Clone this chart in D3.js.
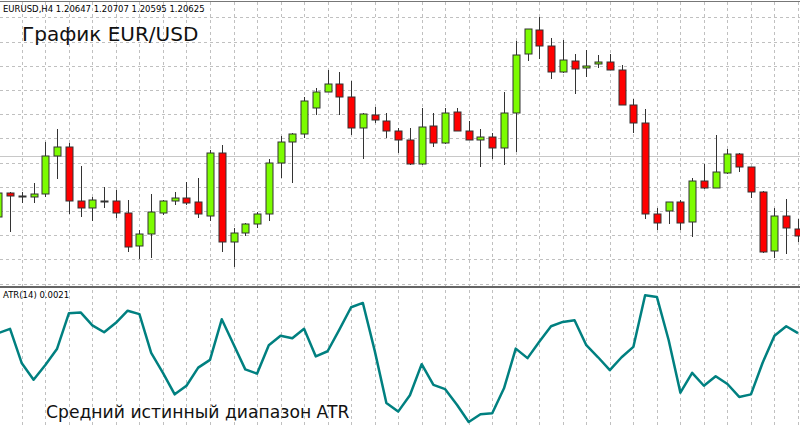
<!DOCTYPE html>
<html>
<head>
<meta charset="utf-8">
<script src="https://cdn.jsdelivr.net/npm/d3@7"></script>
<style>
  body { margin: 0; background: #fff; }
  svg { display: block; font-family: "DejaVu Sans", sans-serif; }
</style>
</head>
<body>
<div id="chart"></div>
<script>
// candle data, EURUSD H4
var openP = [1.1963,1.1987,1.1984,1.1983,1.1986,1.2024,1.2033,1.1979,1.1972,1.1979,1.1979,1.1967,1.1934,1.1946,1.1967,1.1979,1.1982,1.1978,1.1964,1.2027,1.1938,1.1947,1.1956,1.1966,1.2017,1.2038,1.2046,1.2072,1.2088,1.2096,1.2083,1.2052,1.2065,1.2059,1.2049,1.2040,1.2016,1.2054,1.2037,1.2068,1.2049,1.2040,1.2043,1.2032,1.2067,1.2126,1.2150,1.2134,1.2108,1.2119,1.2112,1.2116,1.2118,1.2110,1.2075,1.2057,1.1966,1.1969,1.1978,1.1958,1.1999,1.1992,1.2007,1.2026,1.2013,1.1988,1.1929,1.1964,1.1951];
var highP = [1.1990,1.1988,1.1988,1.1997,1.2038,1.2051,1.2037,1.2014,1.1983,1.1993,1.1990,1.1980,1.1950,1.1986,1.1980,1.1988,1.1998,1.2002,1.2030,1.2035,1.1952,1.1957,1.1968,1.2021,1.2044,1.2047,1.2083,1.2092,1.2110,1.2108,1.2099,1.2067,1.2073,1.2067,1.2052,1.2052,1.2072,1.2067,1.2072,1.2072,1.2059,1.2051,1.2047,1.2088,1.2139,1.2151,1.2163,1.2142,1.2140,1.2126,1.2130,1.2125,1.2126,1.2115,1.2081,1.2071,1.1972,1.1978,1.1980,1.2002,1.2016,1.2045,1.2031,1.2027,1.2013,1.1989,1.1972,1.1981,1.1961];
var lowP = [1.1960,1.1948,1.1977,1.1977,1.1983,1.2001,1.1966,1.1963,1.1959,1.1972,1.1962,1.1928,1.1921,1.1922,1.1965,1.1975,1.1975,1.1962,1.1959,1.1928,1.1913,1.1944,1.1952,1.1959,1.2002,1.1997,1.2042,1.2065,1.2088,1.2065,1.2045,1.2021,1.2057,1.2042,1.2027,1.2015,1.2015,1.2033,1.2036,1.2049,1.2040,1.2013,1.2021,1.2015,1.2028,1.2119,1.2121,1.2101,1.2107,1.2086,1.2103,1.2112,1.2110,1.2075,1.2047,1.1961,1.1950,1.1956,1.1950,1.1943,1.1991,1.1992,1.2006,1.2008,1.1982,1.1927,1.1922,1.1926,1.1938];
var closeP = [1.1987,1.1984,1.1984,1.1986,1.2024,1.2033,1.1979,1.1972,1.1980,1.1979,1.1967,1.1933,1.1946,1.1968,1.1979,1.1982,1.1977,1.1966,1.2027,1.1938,1.1947,1.1956,1.1966,1.2017,1.2038,1.2046,1.2079,1.2088,1.2096,1.2083,1.2052,1.2066,1.2060,1.2049,1.2040,1.2016,1.2053,1.2037,1.2067,1.2049,1.2040,1.2043,1.2032,1.2067,1.2125,1.2151,1.2134,1.2108,1.2120,1.2111,1.2114,1.2118,1.2110,1.2075,1.2057,1.1966,1.1957,1.1978,1.1957,1.1999,1.1992,1.2008,1.2026,1.2013,1.1988,1.1928,1.1964,1.1952,1.1944];

// ATR(14), in pips
var atrPips = [21.0,21.5,17.5,15.6,17.3,19.2,23.3,23.4,21.9,21.1,22.2,23.6,23.2,18.7,16.4,13.9,14.9,17.0,17.9,22.6,19.7,16.8,16.3,19.6,20.7,20.4,21.5,18.3,18.9,21.4,24.0,24.5,19.0,12.9,11.9,13.8,17.4,15.0,14.5,12.7,10.7,11.6,11.7,14.6,19.2,18.1,20.0,21.8,22.3,22.5,19.6,18.2,16.7,18.2,19.4,25.4,25.2,20.2,14.1,16.4,14.9,16.0,15.1,13.6,13.9,17.6,20.7,21.8,21.0];

// price grid levels
var gridLevels = [1.2163,1.2138,1.2114,1.2090,1.2066,1.2042,1.2017,1.1993,1.1969,1.1945,1.1921,1.1896];
var headerText = "EURUSD,H4  1.20647 1.20707 1.20595 1.20625";
var titleText = "График EUR/USD";
var atrLabel = "ATR(14) 0.0021";
var atrTitle = "Средний истинный диапазон ATR";

var width = 800, height = 428;
var sepY = 287;

var svg = d3.select("#chart").append("svg")
  .attr("width", width).attr("height", height);

var x = d3.scaleLinear().domain([0, openP.length - 1]).range([-1.7, 798]);
var y = d3.scaleLinear().domain([1.2180, 1.1900]).range([0, 280]);
var yAtr = d3.scaleLinear().domain([10, 26]).range([428, 290]);

// vertical grid, every second bar
var vIdx = d3.range(0, openP.length + 2, 2);
svg.append("g").selectAll("line").data(vIdx).enter().append("line")
  .attr("x1", function(d) { return Math.round(x(d)) + 0.5; })
  .attr("x2", function(d) { return Math.round(x(d)) + 0.5; })
  .attr("y1", 2).attr("y2", height)
  .attr("stroke", "#c0c0c0").attr("stroke-dasharray", "3,3");

// horizontal grid
svg.append("g").selectAll("line").data(gridLevels).enter().append("line")
  .attr("x1", 0).attr("x2", width)
  .attr("y1", function(d) { return Math.round(y(d)) + 0.5; })
  .attr("y2", function(d) { return Math.round(y(d)) + 0.5; })
  .attr("stroke", "#c0c0c0").attr("stroke-dasharray", "3,3");

// solid level line
svg.append("line").attr("x1", 0).attr("x2", width)
  .attr("y1", Math.round(y(1.2024)) + 0.5).attr("y2", Math.round(y(1.2024)) + 0.5)
  .attr("stroke", "#c8c8c8");

// frame lines
svg.append("line").attr("x1", 0).attr("x2", width).attr("y1", 1.5).attr("y2", 1.5)
  .attr("stroke", "#777");
svg.append("rect").attr("x", 0).attr("y", sepY - 1).attr("width", width).attr("height", 3)
  .attr("fill", "#fff");
svg.append("line").attr("x1", 0).attr("x2", width).attr("y1", sepY).attr("y2", sepY)
  .attr("stroke", "#333").attr("stroke-width", 1.5);

// candles
var idx = d3.range(openP.length);
var candles = svg.append("g").selectAll("g").data(idx).enter().append("g");

candles.append("line")
  .attr("x1", function(i) { return Math.round(x(i)) + 0.5; })
  .attr("x2", function(i) { return Math.round(x(i)) + 0.5; })
  .attr("y1", function(i) { return y(highP[i]); })
  .attr("y2", function(i) { return y(lowP[i]); })
  .attr("stroke", "#333");

candles.append("rect")
  .attr("x", function(i) { return Math.round(x(i)) - 3; })
  .attr("width", 7)
  .attr("y", function(i) { return y(Math.max(openP[i], closeP[i])); })
  .attr("height", function(i) { return Math.max(1, Math.abs(y(openP[i]) - y(closeP[i]))); })
  .attr("fill", function(i) { return closeP[i] >= openP[i] ? "#7cfc00" : "#ff0000"; })
  .attr("stroke", "#333").attr("stroke-width", 1);

// ATR line
var atrLine = d3.line()
  .x(function(d, i) { return x(i); })
  .y(function(d) { return yAtr(d); });
svg.append("path").datum(atrPips)
  .attr("d", atrLine)
  .attr("fill", "none").attr("stroke", "#008080").attr("stroke-width", 2.5)
  .attr("stroke-linejoin", "round");

// texts
svg.append("text").attr("x", 3).attr("y", 12).attr("font-size", 8.5).attr("fill", "#000")
  .text(headerText);
svg.append("text").attr("x", 22).attr("y", 41).attr("font-size", 20).attr("fill", "#111")
  .text(titleText);
svg.append("text").attr("x", 3).attr("y", 298).attr("font-size", 8.5).attr("fill", "#000")
  .text(atrLabel);
svg.append("text").attr("x", 46).attr("y", 418).attr("font-size", 17.2).attr("fill", "#111")
  .text(atrTitle);
</script>
</body>
</html>
